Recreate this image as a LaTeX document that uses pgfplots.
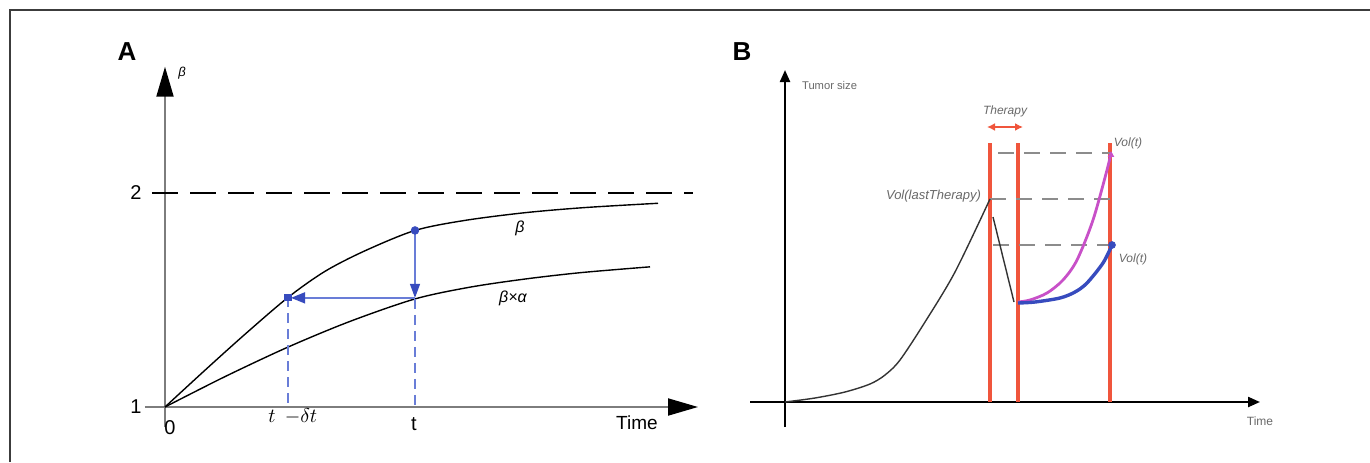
\documentclass[border=0pt]{standalone}
\usepackage{pgfplots}
\pgfplotsset{compat=1.18}
\usetikzlibrary{arrows.meta}
\usepackage{fontspec}
\setmainfont{Liberation Sans}
\definecolor{axgray}{RGB}{125,125,125}
\definecolor{bblue}{RGB}{55,75,190}
\definecolor{lblue}{RGB}{105,125,215}
\definecolor{tred}{RGB}{240,85,60}
\definecolor{pinkc}{RGB}{200,80,200}
\definecolor{dgray}{RGB}{140,140,140}
\definecolor{tgray}{RGB}{105,105,105}
\definecolor{frame}{RGB}{60,60,60}

\begin{document}
\begin{tikzpicture}
\useasboundingbox (0,0) rectangle (685pt,231pt);
\fill[white] (0,0) rectangle (685pt,231pt);
\draw[line width=0.8pt, frame] (5pt,0) -- (5pt,226pt) -- (685pt,226pt);

% ---------------- Panel A ----------------
\begin{axis}[
  at={(72.5pt,16.8pt)}, anchor=south west,
  scale only axis, x=50pt, y=107pt,
  xmin=-0.2, xmax=5.4, ymin=0.9, ymax=2.6,
  axis lines=none, clip=false,
]
% axes
\draw[axgray, line width=1pt, -{Triangle[length=15pt,width=8.5pt,color=black]}]
  (axis cs:0,0.905) -- (axis cs:0,2.59);
\draw[axgray, line width=1pt, -{Triangle[length=15pt,width=8.5pt,color=black]}]
  (axis cs:-0.2,1) -- (axis cs:5.33,1);
% asymptote at 2
\addplot[black, line width=0.9pt, dash pattern=on 13pt off 6pt] coordinates {(-0.13,2) (5.28,2)};
% beta
\addplot[black, line width=0.7pt, smooth] coordinates {
(0,1) (0.4,1.172) (0.8,1.34) (1.23,1.512) (1.6,1.634) (2.0,1.73)
(2.5,1.825) (3.0,1.872) (3.6,1.908) (4.2,1.932) (4.93,1.952)};
% beta x alpha
\addplot[black, line width=0.7pt, smooth] coordinates {
(0,1) (0.6,1.142) (1.23,1.28) (1.85,1.40) (2.5,1.505) (3.05,1.56) (3.6,1.598) (4.16,1.628) (4.85,1.655)};
% blue construction
\addplot[lblue, line width=0.7pt, dash pattern=on 5pt off 3pt] coordinates {(1.23,1.512) (1.23,1)};
\addplot[lblue, line width=0.7pt, dash pattern=on 5pt off 3pt] coordinates {(2.5,1.505) (2.5,1)};
\draw[lblue, line width=0.7pt, -{Triangle[length=7pt,width=5pt,color=bblue]}]
  (axis cs:2.5,1.825) -- (axis cs:2.5,1.51);
\draw[lblue, line width=0.7pt, -{Triangle[length=7pt,width=5.5pt,color=bblue]}]
  (axis cs:2.5,1.51) -- (axis cs:1.26,1.51);
\addplot[only marks, mark=*, mark size=1.9pt, bblue] coordinates {(2.5,1.825)};
\addplot[only marks, mark=square*, mark size=1.6pt, bblue] coordinates {(1.23,1.512)};
% labels
\node[font=\fontsize{13}{13}\selectfont\bfseries] at (axis cs:-0.38,2.66) {A};
\node[font=\fontsize{6.5}{7}\selectfont\itshape] at (axis cs:0.17,2.56) {β};
\node[font=\fontsize{10}{10}\selectfont] at (axis cs:-0.29,2.0) {2};
\node[font=\fontsize{10}{10}\selectfont] at (axis cs:-0.29,1.0) {1};
\node[font=\fontsize{10}{10}\selectfont] at (axis cs:0.05,0.902) {0};
\node[font=\fontsize{9.5}{10}\selectfont] at (axis cs:4.72,0.925) {Time};
\node[font=\fontsize{10}{10}\selectfont] at (axis cs:1.07,0.958) {$t$};
\node[font=\fontsize{10}{10}\selectfont] at (axis cs:1.36,0.958) {$-\delta t$};
\node[font=\fontsize{10}{10}\selectfont] at (axis cs:2.49,0.92) {t};
\node[font=\fontsize{8}{8}\selectfont\itshape] at (axis cs:3.55,1.836) {β};
\node[font=\fontsize{8}{8}\selectfont\itshape] at (axis cs:3.48,1.51) {β×α};
\end{axis}

% ---------------- Panel B ----------------
\begin{axis}[
  at={(372.5pt,15pt)}, anchor=south west,
  scale only axis, x=50pt, y=50pt,
  xmin=-0.4, xmax=4.8, ymin=-0.3, ymax=3.4,
  axis lines=none, clip=false,
]
\draw[black, line width=1.1pt, -{Triangle[length=6pt,width=5pt]}]
  (axis cs:0,-0.25) -- (axis cs:0,3.32);
\draw[black, line width=1.1pt, -{Triangle[length=6pt,width=5pt]}]
  (axis cs:-0.35,0) -- (axis cs:4.75,0);
% red therapy lines
\addplot[tred, line width=2pt] coordinates {(2.05,0) (2.05,2.59)};
\addplot[tred, line width=2pt] coordinates {(2.33,0) (2.33,2.59)};
\addplot[tred, line width=2pt] coordinates {(3.25,0) (3.25,2.59)};
\draw[tred, line width=1.1pt, {Latex[length=4pt,width=4pt]}-{Latex[length=4pt,width=4pt]}]
  (axis cs:2.02,2.75) -- (axis cs:2.38,2.75);
% dashed levels
\addplot[dgray, line width=1pt, dash pattern=on 8pt off 5pt] coordinates {(2.13,2.49) (3.25,2.49)};
\addplot[dgray, line width=1pt, dash pattern=on 8pt off 5pt] coordinates {(2.05,2.03) (3.3,2.03)};
\addplot[dgray, line width=1pt, dash pattern=on 8pt off 5pt] coordinates {(2.08,1.57) (3.27,1.57)};
% growth curve
\addplot[black!80, line width=0.7pt, smooth] coordinates {
(0,0) (0.3,0.04) (0.6,0.1) (0.85,0.18) (1.0,0.27) (1.15,0.42) (1.4,0.8) (1.7,1.3) (2.05,2.03)};
\addplot[black!80, line width=0.7pt] coordinates {(2.08,1.85) (2.29,1.0)};
% regrowth
\addplot[pinkc, line width=1.4pt, smooth] coordinates {
(2.33,1.0) (2.45,1.02) (2.62,1.09) (2.78,1.22) (2.92,1.42) (3.08,1.82) (3.22,2.32) (3.26,2.49)};
\addplot[bblue, line width=1.7pt, smooth] coordinates {
(2.33,0.99) (2.5,1.0) (2.75,1.04) (2.9,1.1) (3.02,1.19) (3.18,1.39) (3.27,1.57)};
\addplot[only marks, mark=*, mark size=1.7pt, bblue] coordinates {(3.27,1.57)};
\addplot[only marks, mark=triangle*, mark size=1.5pt, pinkc] coordinates {(3.26,2.47)};
% labels
\node[font=\fontsize{13}{13}\selectfont\bfseries] at (axis cs:-0.43,3.5) {B};
\node[font=\fontsize{5.6}{6}\selectfont, tgray, anchor=west] at (axis cs:0.1,3.17) {Tumor size};
\node[font=\fontsize{6}{6}\selectfont, tgray] at (axis cs:4.75,-0.19) {Time};
\node[font=\fontsize{6}{6}\selectfont\itshape, tgray] at (axis cs:2.2,2.91) {Therapy};
\node[font=\fontsize{6.5}{7}\selectfont\itshape, tgray, anchor=east] at (axis cs:2.03,2.06) {Vol(lastTherapy)};
\node[font=\fontsize{6}{6}\selectfont\itshape, tgray] at (axis cs:3.43,2.59) {Vol(t)};
\node[font=\fontsize{6}{6}\selectfont\itshape, tgray] at (axis cs:3.48,1.43) {Vol(t)};
\end{axis}
\end{tikzpicture}
\end{document}
